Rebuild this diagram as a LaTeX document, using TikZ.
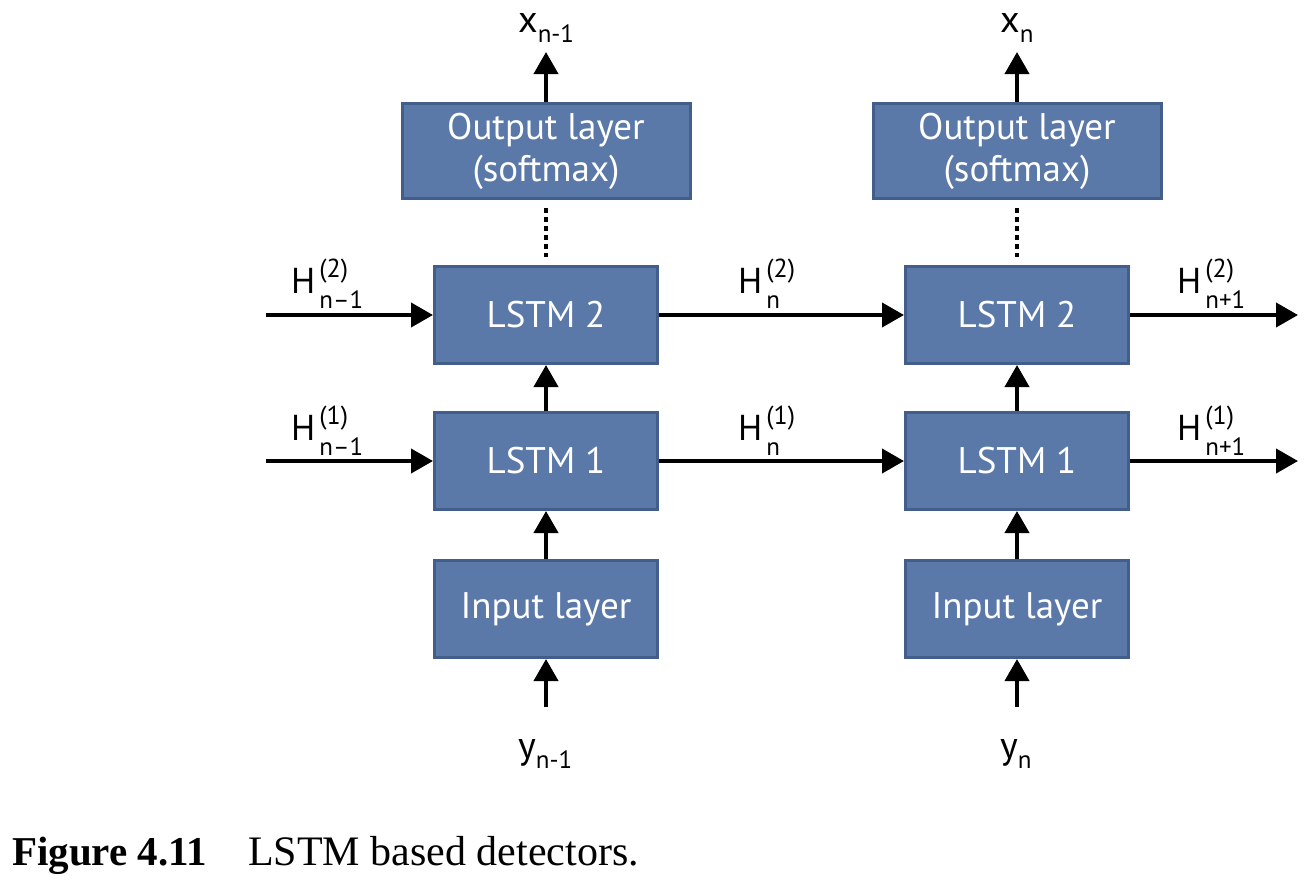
\documentclass[tikz,border=0pt]{standalone}
\usepackage{fontspec}
\setmainfont{PT Sans}
\newfontfamily\capfont{Liberation Serif}
\usetikzlibrary{arrows.meta}
\definecolor{boxblue}{HTML}{5A78A8}
\definecolor{boxedge}{HTML}{435E8A}
\newcommand\Hlab[2]{H\hspace{4pt}\makebox[0pt][l]{\raisebox{16pt}{\fontsize{26}{26}\selectfont(#1)}}\raisebox{-15pt}{\fontsize{25}{25}\selectfont #2}}
\newcommand\vlab[2]{#1\raisebox{-10pt}{\fontsize{25}{25}\selectfont #2}}
\begin{document}
\begin{tikzpicture}[x=1pt,y=-1pt,
  blk/.style={draw=boxedge,fill=boxblue,line width=3pt,text=white,
    font=\fontsize{37}{42}\selectfont,align=center,inner sep=0pt},
  outblk/.style={blk,minimum width=288pt,minimum height=95pt},
  lstmblk/.style={blk,minimum width=223pt,minimum height=97pt},
  arr/.style={line width=4pt,-{Triangle[length=22pt,width=24pt]}},
  dotline/.style={line width=4.5pt,dash pattern=on 4.5pt off 4.5pt},
  hlab/.style={font=\fontsize{36}{36}\selectfont,inner sep=0pt,anchor=base west},
  vl/.style={font=\fontsize{38}{38}\selectfont,inner sep=0pt,anchor=base west}]
\useasboundingbox (0,0) rectangle (1308,892);
\foreach \c/\cx/\lx/\xs/\ys in {L/546/518/n-1/n-1, R/1017/1000/n/n} {
  \node[outblk] (out\c) at (\cx,151) {Output layer\\(softmax)};
  \node[lstmblk] (two\c) at (\cx,315) {LSTM 2};
  \node[lstmblk] (one\c) at (\cx,461) {LSTM 1};
  \node[lstmblk] (in\c) at (\cx,609) {Input layer};
  \coordinate (xtop\c) at (\cx,52);
  \coordinate (ybot\c) at (\cx,707);
  \node[vl] (x\c) at (\lx,32) {\vlab{x}{\xs}};
  \node[vl] (y\c) at (\lx,758) {\vlab{y}{\ys}};
  \draw[arr] (out\c.north) -- (xtop\c);
  \draw[dotline] ([yshift=-8pt]out\c.south) -- ([yshift=8pt]two\c.north);
  \draw[arr] (one\c.north) -- (two\c.south);
  \draw[arr] (in\c.north) -- (one\c.south);
  \draw[arr] (ybot\c) -- (in\c.south);
}
\coordinate (l2) at (266,315);
\coordinate (l1) at (266,461);
\coordinate (r2) at (1298,315);
\coordinate (r1) at (1298,461);
\draw[arr] (l2) -- (twoL.west);
\draw[arr] (l1) -- (oneL.west);
\draw[arr] (twoL.east) -- (twoR.west);
\draw[arr] (oneL.east) -- (oneR.west);
\draw[arr] (twoR.east) -- (r2);
\draw[arr] (oneR.east) -- (r1);
\node[hlab] (h2a) at (291,293) {\Hlab{2}{n–1}};
\node[hlab] (h1a) at (291,440) {\Hlab{1}{n–1}};
\node[hlab] (h2b) at (738,293) {\Hlab{2}{n}};
\node[hlab] (h1b) at (738,440) {\Hlab{1}{n}};
\node[hlab] (h2c) at (1177,293) {\Hlab{2}{n+1}};
\node[hlab] (h1c) at (1177,440) {\Hlab{1}{n+1}};
\node[anchor=base west,inner sep=0pt,font=\capfont\bfseries\fontsize{41}{41}\selectfont] (capA) at (12,865) {Figure 4.11};
\node[anchor=base west,inner sep=0pt,font=\capfont\fontsize{42}{42}\selectfont] (capB) at (248,865) {LSTM based detectors.};
\end{tikzpicture}
\end{document}
